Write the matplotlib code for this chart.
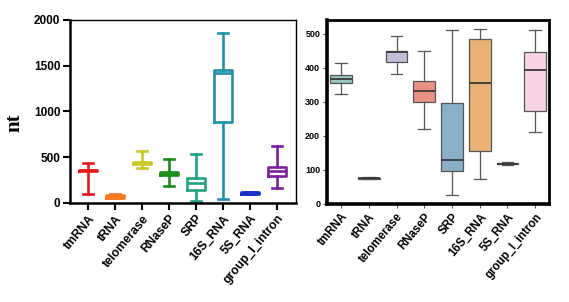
import colorsys
import matplotlib
matplotlib.use("Agg")
import matplotlib.pyplot as plt
import matplotlib.colors as mcolors

# categories
names = ["tmRNA", "tRNA", "telomerase", "RNaseP", "SRP", "16S_RNA", "5S_RNA", "group_I_intron"]

# left panel: min / q1 / median / q3 / max (nt)
left_min = [99, 50, 380, 183, 26, 48, 98, 161]
left_q1 = [348, 58, 428, 303, 146, 888, 103, 292]
left_med = [355, 72, 437, 318, 216, 1418, 110, 347]
left_q3 = [362, 88, 446, 340, 278, 1448, 118, 395]
left_max = [435, 95, 563, 483, 530, 1853, 125, 618]
left_colors = ["#e8191e", "#f7781f", "#c8c82a", "#1b8c1b", "#22a383", "#2190a8", "#1a2fc4", "#7d1fa3"]

# right panel: whisker low / q1 / median / q3 / whisker high
right_min = [322, 73, 382, 221, 27, 72, 114, 210]
right_q1 = [354, 74, 417, 299, 97, 155, 116, 272]
right_med = [366, 75.5, 445, 330, 128, 354, 118, 393]
right_q3 = [379, 77, 450, 361, 297, 483, 121, 445]
right_max = [413, 78, 493, 448, 510, 513, 123, 511]
right_palette = ["#8dd3c7", "#ffffb3", "#bebada", "#fb8072", "#80b1d3", "#fdb462", "#b3de69", "#fccde5"]


def desaturate(c, prop=0.75):
    r, g, b = mcolors.to_rgb(c)
    h, l, s = colorsys.rgb_to_hls(r, g, b)
    return colorsys.hls_to_rgb(h, l, s * prop)


def make_stats(lo, q1, med, q3, hi):
    return [dict(whislo=a, q1=b, med=c, q3=d, whishi=e, fliers=[])
            for a, b, c, d, e in zip(lo, q1, med, q3, hi)]


fig = plt.figure(figsize=(5.69, 3.02), dpi=100)
tick_font = dict(fontfamily="Liberation Sans", fontweight="bold")

# ---------------- left panel ----------------
ax1 = fig.add_axes([0.123, 0.328, 0.397, 0.606])
stats1 = make_stats(left_min, left_q1, left_med, left_q3, left_max)
for i, (st, col) in enumerate(zip(stats1, left_colors)):
    lp = dict(color=col, linewidth=1.9)
    ax1.bxp([st], positions=[i], widths=0.64, capwidths=0.37, showfliers=False,
            boxprops=lp, whiskerprops=lp, capprops=lp, medianprops=lp)
ax1.set_xlim(-0.67, 7.7)
ax1.set_ylim(0, 2000)
ax1.set_yticks([0, 500, 1000, 1500, 2000])
ax1.set_xticks(range(len(names)))
ax1.set_xticklabels(names, rotation=50, ha="right", rotation_mode="anchor", fontsize=8.7, **tick_font)
for lab in ax1.get_yticklabels():
    lab.set_fontsize(8.5)
    lab.set_fontfamily("Liberation Sans")
    lab.set_fontweight("bold")
for s in ["left", "bottom"]:
    ax1.spines[s].set_linewidth(1.8)
for s in ["top", "right"]:
    ax1.spines[s].set_linewidth(1.0)
ax1.tick_params(axis="both", direction="out", length=5, width=1.5, pad=2)
ax1.set_ylabel("nt", fontfamily="Liberation Serif", fontweight="bold", fontsize=15)
ax1.yaxis.set_label_coords(-0.2, 0.44)

# ---------------- right panel ----------------
ax2 = fig.add_axes([0.575, 0.325, 0.390, 0.609])
stats2 = make_stats(right_min, right_q1, right_med, right_q3, right_max)
for i, (st, col) in enumerate(zip(stats2, right_palette)):
    ax2.bxp([st], positions=[i], widths=0.78, capwidths=0.42, showfliers=False,
            patch_artist=True,
            boxprops=dict(facecolor=desaturate(col), edgecolor="#555555", linewidth=0.9),
            whiskerprops=dict(color="#555555", linewidth=0.9),
            capprops=dict(color="#555555", linewidth=0.9),
            medianprops=dict(color="#3a3a3a", linewidth=1.3))
ax2.set_xlim(-0.5, 7.5)
ax2.set_ylim(0, 540)
ax2.set_yticks([0, 100, 200, 300, 400, 500])
ax2.set_xticks(range(len(names)))
ax2.set_xticklabels(names, rotation=50, ha="right", rotation_mode="anchor", fontsize=8.3, **tick_font)
for lab in ax2.get_yticklabels():
    lab.set_fontsize(6.5)
    lab.set_fontfamily("Liberation Sans")
    lab.set_fontweight("bold")
for s in ["top", "right"]:
    ax2.spines[s].set_linewidth(2.0)
for s in ["left", "bottom"]:
    ax2.spines[s].set_linewidth(2.6)
ax2.tick_params(axis="both", direction="out", length=3, width=0.8, color="#555555", pad=2)

fig.savefig("out.png", dpi=100)
